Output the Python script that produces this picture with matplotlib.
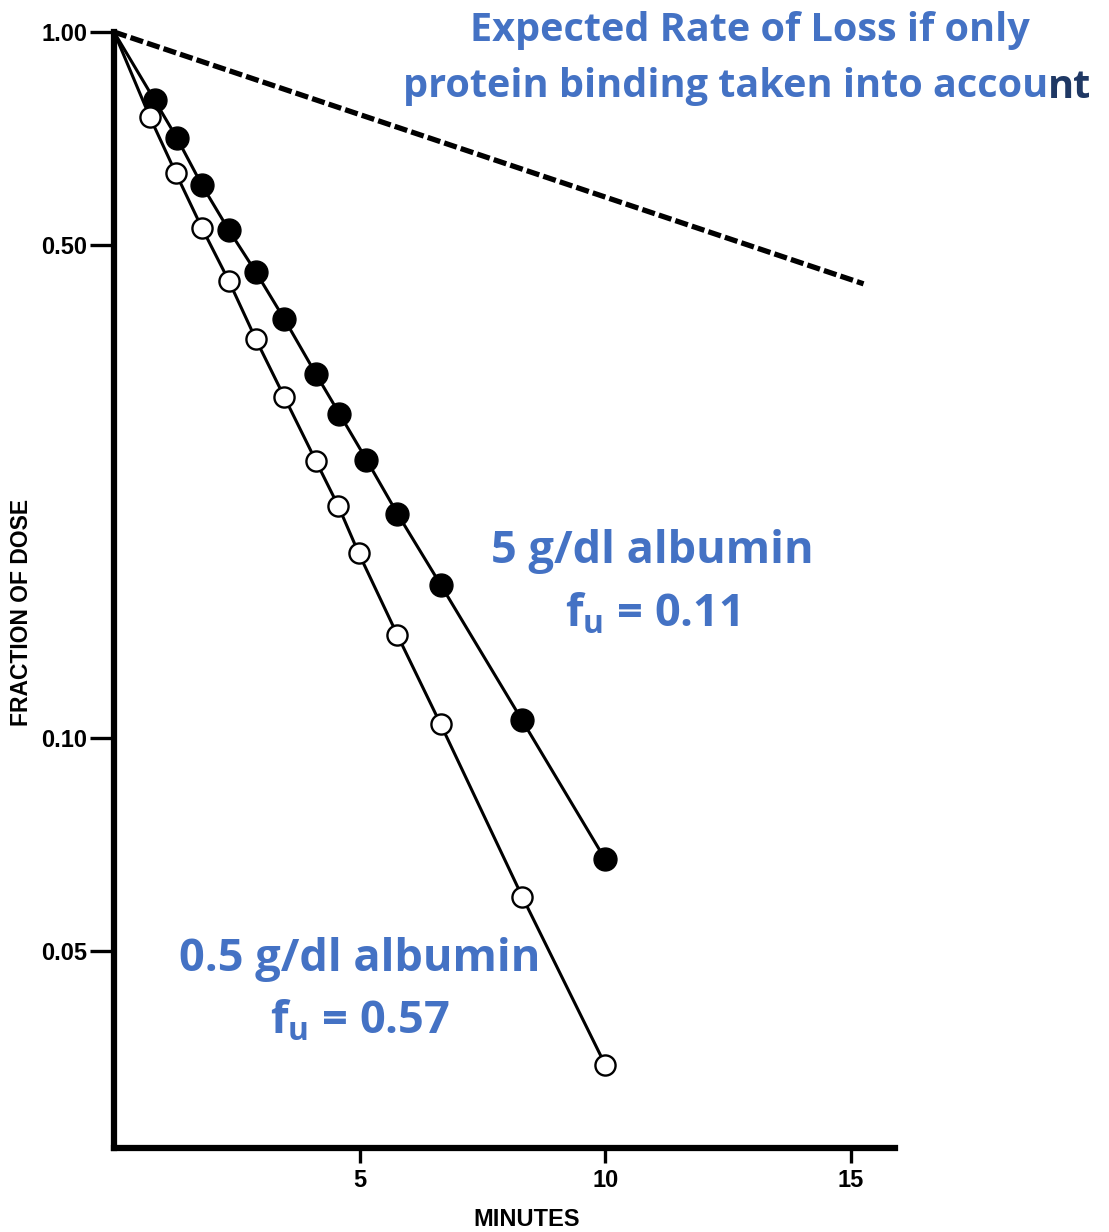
import matplotlib
matplotlib.use("Agg")
import matplotlib.pyplot as plt

# values
filled_t = [0.83, 1.28, 1.79, 2.34, 2.89, 3.47, 4.11, 4.59, 5.14, 5.77, 6.65, 8.31, 10.0]
filled_f = [0.80, 0.708, 0.607, 0.524, 0.457, 0.392, 0.328, 0.288, 0.248, 0.208, 0.165, 0.106, 0.0674]
open_t = [0.73, 1.26, 1.79, 2.34, 2.89, 3.47, 4.11, 4.57, 4.98, 5.77, 6.65, 8.31, 10.0]
open_f = [0.758, 0.631, 0.528, 0.444, 0.367, 0.304, 0.247, 0.213, 0.183, 0.140, 0.1047, 0.0597, 0.0345]
expected_t = [0.0, 15.26]
expected_f = [1.0, 0.44]
yticks = [1.0, 0.5, 0.1, 0.05]
ytick_labels = ['1.00', '0.50', '0.10', '0.05']
xticks = [5, 10, 15]

blue = '#4472C4'
navy = '#1F3864'
tfont = 'Open Sans'
plt.rcParams['mathtext.fontset'] = 'custom'
plt.rcParams['mathtext.rm'] = 'Open Sans:bold'

fig = plt.figure(figsize=(11.09, 12.32), dpi=100)
ax = fig.add_axes([114/1109, 1 - 1148/1232, (895-114)/1109, (1148-32)/1232])
ax.set_yscale('log')
ax.set_xlim(0, 15.9)
ax.set_ylim(0.0263, 1.0)

ax.plot([0] + filled_t, [1.0] + filled_f, color='black', lw=2.2, zorder=2)
ax.plot(filled_t, filled_f, 'o', ms=16.5, color='black', zorder=3, clip_on=False)
ax.plot([0] + open_t, [1.0] + open_f, color='black', lw=2.2, zorder=2)
ax.plot(open_t, open_f, 'o', ms=14.5, mfc='white', mec='black', mew=1.7, zorder=3, clip_on=False)
ax.plot(expected_t, expected_f, color='black', lw=3.8, ls=(0, (2.5, 0.8)), zorder=2, clip_on=False)

for s in ['top', 'right']:
    ax.spines[s].set_visible(False)
for s in ['left', 'bottom']:
    ax.spines[s].set_linewidth(4.5)

ax.set_yticks(yticks)
ax.set_yticklabels(ytick_labels)
ax.minorticks_off()
ax.set_xticks(xticks)
ax.set_xticklabels([str(x) for x in xticks])
ax.tick_params(axis='y', length=17, width=2.4, pad=2, labelsize=17)
ax.tick_params(axis='x', length=11, width=2.4, pad=4, labelsize=17)
for lab in ax.get_xticklabels() + ax.get_yticklabels():
    lab.set_fontweight('bold')
    lab.set_family('Liberation Sans')

fig.text(22/1109, 1 - 612/1232, 'FRACTION OF DOSE', rotation=90, ha='center', va='center',
         fontsize=16.5, fontweight='bold', family='Liberation Sans')
fig.text(527/1109, 1 - 1220/1232, 'MINUTES', ha='center', va='center',
         fontsize=17, fontweight='bold', family='Liberation Sans')

# blue annotations
fig.text(750/1109, 1 - 30/1232, 'Expected Rate of Loss if only', ha='center', va='center',
         fontsize=28.5, fontweight='bold', family=tfont, color=blue)
t2 = fig.text(403/1109, 1 - 87/1232, 'protein binding taken into accou', ha='left', va='center',
              fontsize=28.5, fontweight='bold', family=tfont, color=blue)
ax.annotate('nt', xy=(1, 0.5), xycoords=t2, ha='left', va='center',
            fontsize=28.5, fontweight='bold', family=tfont, color=navy)

fig.text(652/1109, 1 - 552/1232, '5 g/dl albumin', ha='center', va='center',
         fontsize=32.5, fontweight='bold', family=tfont, color=blue)
fig.text(652/1109, 1 - 615/1232, r'f$_\mathregular{u}$ = 0.11', ha='center', va='center',
         fontsize=32.5, fontweight='bold', family=tfont, color=blue)
fig.text(360/1109, 1 - 960/1232, '0.5 g/dl albumin', ha='center', va='center',
         fontsize=32.5, fontweight='bold', family=tfont, color=blue)
fig.text(360/1109, 1 - 1022/1232, r'f$_\mathregular{u}$ = 0.57', ha='center', va='center',
         fontsize=32.5, fontweight='bold', family=tfont, color=blue)

fig.savefig('out.png', dpi=100)
